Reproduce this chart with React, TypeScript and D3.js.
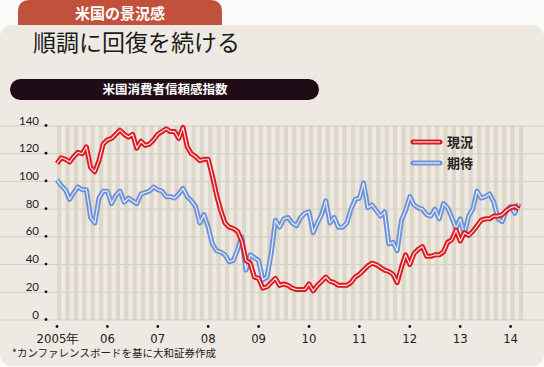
import React, { useEffect, useRef } from 'react';
import * as d3 from 'd3';

// 米国消費者信頼感指数 (Conference Board), monthly from Jan 2005
const presentByYear = [
  [113, 117, 116, 114, 118, 121, 120, 125, 110, 107, 115, 127], // 2005
  [130, 131, 134, 137, 134, 132, 134, 124, 129, 126, 127, 130], // 2006
  [134, 136, 138, 136, 136, 131, 139, 125, 120, 118, 115, 116], // 2007
  [116, 104, 90, 79, 70, 67, 66, 64, 57, 43, 41, 31], // 2008
  [30, 23, 24, 27, 30, 25, 26, 25, 23, 22, 22, 22], // 2009
  [26, 21, 25, 28, 31, 28, 27, 25, 25, 25, 27, 31], // 2010
  [33, 36, 39, 41, 40, 38, 36, 35, 33, 27, 38, 47], // 2011
  [40, 48, 51, 53, 46, 46, 47, 47, 49, 56, 58, 65], // 2012
  [57, 63, 61, 64, 68, 72, 73, 73, 75, 75, 76, 79], // 2013
  [81, 82, 80], // 2014
];
const expectByYear = [
  [101, 97, 94, 87, 92, 96, 94, 94, 74, 70, 88, 93],
  [93, 84, 90, 93, 85, 88, 86, 84, 91, 92, 93, 96],
  [94, 93, 89, 89, 88, 91, 95, 89, 86, 82, 70, 76],
  [67, 55, 50, 49, 47, 42, 43, 51, 60, 36, 47, 45],
  [43, 29, 31, 48, 72, 67, 73, 74, 70, 68, 74, 77],
  [78, 63, 70, 76, 86, 70, 74, 67, 67, 70, 80, 87],
  [88, 99, 81, 83, 79, 75, 78, 55, 56, 50, 72, 79],
  [89, 83, 81, 80, 76, 75, 80, 73, 84, 81, 74, 66],
  [73, 62, 75, 80, 93, 88, 89, 91, 85, 73, 71, 79],
  [82, 77, 84],
];
const yearLabels = ['2005年', '06', '07', '08', '09', '10', '11', '12', '13', '14'];
const yTicks = [0, 20, 40, 60, 80, 100, 120, 140];
const seriesNames = ['現況', '期待'];

const present = presentByYear.flat();
const expect = expectByYear.flat();

const W = 544, H = 367;
const RED = '#dc1820', BLUE = '#6f92d6';

export default function App() {
  const ref = useRef<SVGSVGElement>(null);

  useEffect(() => {
    const svg = d3.select(ref.current);
    svg.selectAll('*').remove();

    const n = present.length;
    const x = d3.scaleLinear().domain([0, n - 1]).range([57, 519]);
    const monthW = x(1) - x(0);
    const y = d3.scaleLinear().domain([0, 140]).range([320, 126]);

    svg.append('rect').attr('width', W).attr('height', H).attr('fill', '#fbfbf9');

    // header tab
    svg.append('path')
      .attr('d', 'M18,25 L18,12 Q18,0 30,0 L210,0 Q222,0 222,12 L222,25 Z')
      .attr('fill', '#c1513a');
    svg.append('text').attr('x', 120).attr('y', 18.5)
      .attr('text-anchor', 'middle').attr('fill', '#fff')
      .attr('font-size', 15).attr('font-weight', 'bold')
      .attr('font-family', '"Noto Sans CJK JP", sans-serif')
      .text('米国の景況感');

    // panel
    svg.append('rect').attr('x', 0).attr('y', 25).attr('width', W).attr('height', 341)
      .attr('rx', 12).attr('fill', '#eeeae3');

    svg.append('text').attr('x', 33).attr('y', 51)
      .attr('fill', '#1a1a1a').attr('font-size', 23)
      .attr('font-family', '"Noto Sans CJK JP", serif')
      .text('順調に回復を続ける');

    svg.append('rect').attr('x', 10).attr('y', 79).attr('width', 309).attr('height', 21)
      .attr('rx', 10.5).attr('fill', '#1f0c16');
    svg.append('text').attr('x', 165).attr('y', 94)
      .attr('text-anchor', 'middle').attr('fill', '#fff')
      .attr('font-size', 12.5).attr('font-weight', 'bold')
      .attr('font-family', '"Noto Sans CJK JP", sans-serif')
      .text('米国消費者信頼感指数');

    // month stripes
    const months = d3.range(0, n, 2);
    svg.append('g').selectAll('rect').data(months).enter().append('rect')
      .attr('x', (m) => x(m))
      .attr('y', y(140))
      .attr('width', monthW)
      .attr('height', y(0) - y(140))
      .attr('fill', '#ddd7ca');

    // grid lines
    svg.append('g').selectAll('line').data(yTicks).enter().append('line')
      .attr('x1', 0).attr('x2', W)
      .attr('y1', (d) => y(d)).attr('y2', (d) => y(d))
      .attr('stroke', '#d3cfc7').attr('stroke-width', 1);

    // y axis labels and dots
    const ya = svg.append('g');
    ya.selectAll('text').data(yTicks).enter().append('text')
      .attr('x', 39).attr('y', (d) => y(d) - 1.5)
      .attr('text-anchor', 'end').attr('fill', '#222')
      .attr('font-size', 11.5).attr('font-family', 'Lato, "Noto Sans", sans-serif')
      .text((d) => d);
    ya.selectAll('circle').data(yTicks).enter().append('circle')
      .attr('cx', 46).attr('cy', (d) => y(d) - 0.5).attr('r', 1.4).attr('fill', '#111');

    // x axis labels and dots
    const xa = svg.append('g');
    xa.selectAll('circle').data(yearLabels).enter().append('circle')
      .attr('cx', (_, i) => x(i * 12)).attr('cy', 326.5).attr('r', 1.4).attr('fill', '#111');
    xa.selectAll('text').data(yearLabels).enter().append('text')
      .attr('x', (_, i) => x(i * 12) + (i === 0 ? 1 : 0)).attr('y', 343)
      .attr('text-anchor', 'middle').attr('fill', '#222')
      .attr('font-size', 13)
      .attr('font-family', '"Liberation Sans Narrow", "DejaVu Sans Condensed", sans-serif')
      .text((d) => d);

    const line = d3.line<number>().x((_, i) => x(i)).y((d) => y(d));

    const drawSeries = (data: number[], color: string, inner: string) => {
      svg.append('path').datum(data).attr('d', line)
        .attr('fill', 'none').attr('stroke', color).attr('stroke-width', 5)
        .attr('stroke-linejoin', 'round');
      svg.append('path').datum(data).attr('d', line)
        .attr('fill', 'none').attr('stroke', inner).attr('stroke-width', 1.2)
        .attr('stroke-linejoin', 'round');
    };
    drawSeries(expect, BLUE, '#e4ecfa');
    drawSeries(present, RED, '#fbe3e3');

    // legend
    const legend = [
      { name: seriesNames[0], color: RED, inner: '#fbe3e3', yy: 142 },
      { name: seriesNames[1], color: BLUE, inner: '#e4ecfa', yy: 163 },
    ];
    legend.forEach((l) => {
      svg.append('line').attr('x1', 413).attr('x2', 440).attr('y1', l.yy).attr('y2', l.yy)
        .attr('stroke', l.color).attr('stroke-width', 5).attr('stroke-linecap', 'round');
      svg.append('line').attr('x1', 413).attr('x2', 440).attr('y1', l.yy).attr('y2', l.yy)
        .attr('stroke', l.inner).attr('stroke-width', 1.2);
      svg.append('text').attr('x', 447).attr('y', l.yy + 4.5)
        .attr('fill', '#222').attr('font-size', 13).attr('font-weight', 'bold')
        .attr('font-family', '"Noto Sans CJK JP", sans-serif')
        .text(l.name);
    });

    svg.append('text').attr('x', 12).attr('y', 357)
      .attr('fill', '#222').attr('font-size', 10.5)
      .attr('font-family', '"Noto Sans CJK JP", sans-serif')
      .text('*カンファレンスボードを基に大和証券作成');
  }, []);

  return (
    <svg ref={ref} width={W} height={H}
      style={{ position: 'absolute', left: 0, top: 0, display: 'block' }} />
  );
}
